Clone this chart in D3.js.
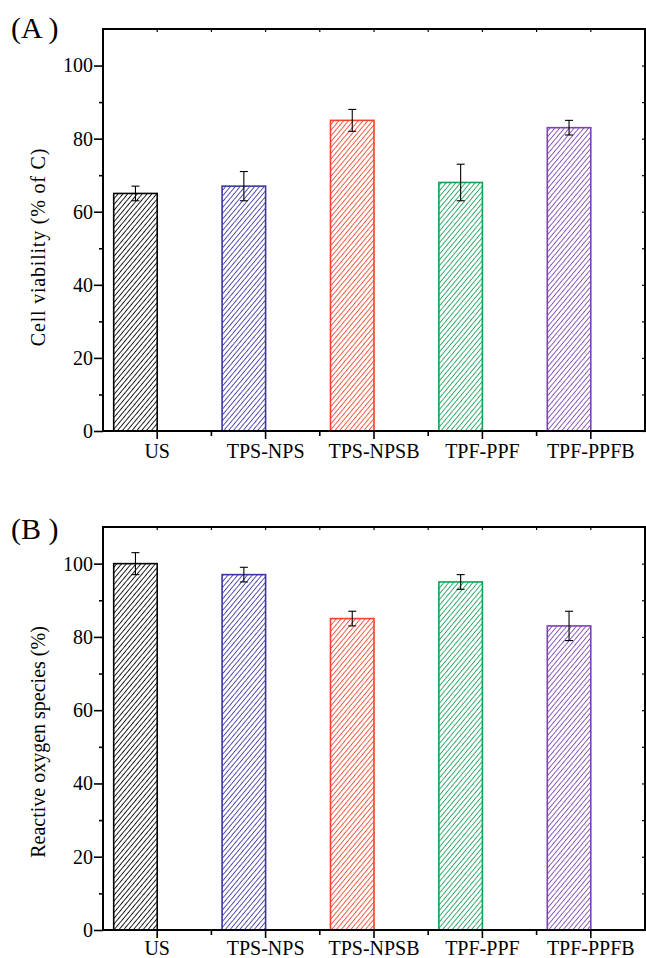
<!DOCTYPE html>
<html>
<head>
<meta charset="utf-8">
<script src="https://cdn.jsdelivr.net/npm/d3@7"></script>
<style>
  html, body { margin: 0; padding: 0; background: #fff; }
  svg { display: block; }
  text { font-family: "Liberation Serif", "Times New Roman", serif; fill: #000; }
</style>
</head>
<body>
<svg id="chart" width="646" height="958"></svg>
<script>
// Treatment groups shared by both panels
const categories = ["US", "TPS-NPS", "TPS-NPSB", "TPF-PPF", "TPF-PPFB"];
const barColors = ["#000000", "#3b36a6", "#f4432a", "#16a057", "#7d42b3"];

// Panel A: cell viability (% of control) with error
const viability = [65, 67, 85, 68, 83];
const viabilityErr = [2, 4, 3, 5, 2];

// Panel B: reactive oxygen species (%) with error
const ros = [100, 97, 85, 95, 83];
const rosErr = [3, 2, 2, 2, 4];

const yTicks = [0, 20, 40, 60, 80, 100];
const yMinorTicks = [10, 30, 50, 70, 90];

const svg = d3.select("#chart");
const defs = svg.append("defs");
const FONT = "Liberation Serif";

// diagonal hatch fill for every colour
const hp = 3.7;
barColors.forEach((c, i) => {
  const p = defs.append("pattern")
    .attr("id", "hatch" + i)
    .attr("patternUnits", "userSpaceOnUse")
    .attr("width", hp).attr("height", hp)
    .attr("patternTransform", "rotate(40)");
  p.append("rect").attr("width", hp).attr("height", hp).attr("fill", "#fff");
  p.append("line")
    .attr("x1", 0).attr("y1", 0).attr("x2", 0).attr("y2", hp)
    .attr("stroke", c).attr("stroke-width", 1.7);
});

function drawPanel(cfg) {
  const { top, bottom, left, right, values, errors, yTitle, titleY, titleSpacing,
          panelLabel, labelY, xLabelY } = cfg;
  const g = svg.append("g");

  const y = d3.scaleLinear().domain([0, 110]).range([bottom, top]);
  const x = d3.scaleBand().domain(categories).range([left, right]).paddingInner(0).paddingOuter(0);
  const cx = d => x(d) + x.bandwidth() / 2;
  const barW = 43.5;

  // bars: right edge sits on the category tick
  g.selectAll("rect.bar").data(categories).join("rect")
    .attr("class", "bar")
    .attr("x", d => cx(d) - barW)
    .attr("width", barW)
    .attr("y", (d, i) => y(values[i]))
    .attr("height", (d, i) => y(0) - y(values[i]))
    .attr("fill", (d, i) => `url(#hatch${i})`)
    .attr("stroke", (d, i) => barColors[i])
    .attr("stroke-width", 1.6);

  // error bars
  const eb = g.selectAll("g.err").data(categories).join("g").attr("class", "err");
  const ex = d => cx(d) - barW / 2;
  eb.append("line")
    .attr("x1", ex).attr("x2", ex)
    .attr("y1", (d, i) => y(values[i] + errors[i]))
    .attr("y2", (d, i) => y(values[i] - errors[i]))
    .attr("stroke", "#000").attr("stroke-width", 1.1);
  [1, -1].forEach(s => {
    eb.append("line")
      .attr("x1", d => ex(d) - 4).attr("x2", d => ex(d) + 4)
      .attr("y1", (d, i) => y(values[i] + s * errors[i]))
      .attr("y2", (d, i) => y(values[i] + s * errors[i]))
      .attr("stroke", "#000").attr("stroke-width", 1.1);
  });

  // left axis
  const yAxis = g.append("g").attr("transform", `translate(${left},0)`)
    .call(d3.axisLeft(y).tickValues(yTicks).tickSize(9).tickPadding(1).tickFormat(d3.format("d")));
  yAxis.select(".domain").remove();
  yAxis.selectAll(".tick line").attr("stroke-width", 1.6);
  yAxis.selectAll("text").attr("font-size", 20).attr("font-family", FONT);
  g.append("g").attr("transform", `translate(${left},0)`)
    .call(d3.axisLeft(y).tickValues(yMinorTicks).tickSize(4).tickFormat(""))
    .call(a => a.select(".domain").remove())
    .selectAll(".tick line").attr("stroke-width", 1.6);

  // mirrored right axis ticks (inward)
  g.append("g").attr("transform", `translate(${right},0)`)
    .call(d3.axisRight(y).tickValues(yTicks.concat(yMinorTicks)).tickSize(-3).tickFormat(""))
    .call(a => a.select(".domain").remove())
    .selectAll(".tick line").attr("stroke-width", 1.2);

  // bottom axis: major ticks at categories, minor between them
  const xAxis = g.append("g").attr("transform", `translate(0,${bottom})`)
    .call(d3.axisBottom(x).tickSize(8).tickFormat(""));
  xAxis.select(".domain").remove();
  xAxis.selectAll(".tick line").attr("stroke-width", 1.6);
  g.selectAll("text.xlab").data(categories).join("text")
    .attr("class", "xlab")
    .attr("x", cx).attr("y", xLabelY)
    .attr("text-anchor", "middle")
    .attr("font-size", 20)
    .text(d => d);
  const minorX = categories.slice(0, -1).map(d => x(d) + x.bandwidth());
  g.selectAll("line.minorx").data(minorX).join("line")
    .attr("class", "minorx")
    .attr("x1", d => d).attr("x2", d => d)
    .attr("y1", bottom).attr("y2", bottom + 5)
    .attr("stroke", "#000").attr("stroke-width", 1.6);
  g.selectAll("line.mirrorx").data(categories.map(cx).concat(minorX)).join("line")
    .attr("class", "mirrorx")
    .attr("x1", d => d).attr("x2", d => d)
    .attr("y1", top).attr("y2", top + 3)
    .attr("stroke", "#000").attr("stroke-width", 1.2);

  // frame
  g.append("rect")
    .attr("x", left).attr("y", top)
    .attr("width", right - left).attr("height", bottom - top)
    .attr("fill", "none").attr("stroke", "#000").attr("stroke-width", 2);

  // axis title
  g.append("text")
    .attr("transform", `translate(45,${titleY}) rotate(-90)`)
    .attr("text-anchor", "middle")
    .attr("font-size", 20)
    .attr("letter-spacing", titleSpacing)
    .text(yTitle);

  // panel label
  g.append("text")
    .attr("x", 11).attr("y", labelY)
    .attr("font-size", 30)
    .attr("xml:space", "preserve")
    .style("white-space", "pre")
    .text(panelLabel);
}

drawPanel({
  top: 29, bottom: 431, left: 103, right: 645,
  values: viability, errors: viabilityErr,
  yTitle: "Cell viability (% of C)", titleY: 247, titleSpacing: 0.8,
  panelLabel: "(A )", labelY: 38, xLabelY: 458
});

drawPanel({
  top: 527, bottom: 930, left: 103, right: 645,
  values: ros, errors: rosErr,
  yTitle: "Reactive oxygen species (%)", titleY: 742, titleSpacing: 0,
  panelLabel: "(B )", labelY: 539, xLabelY: 955
});
</script>
</body>
</html>
